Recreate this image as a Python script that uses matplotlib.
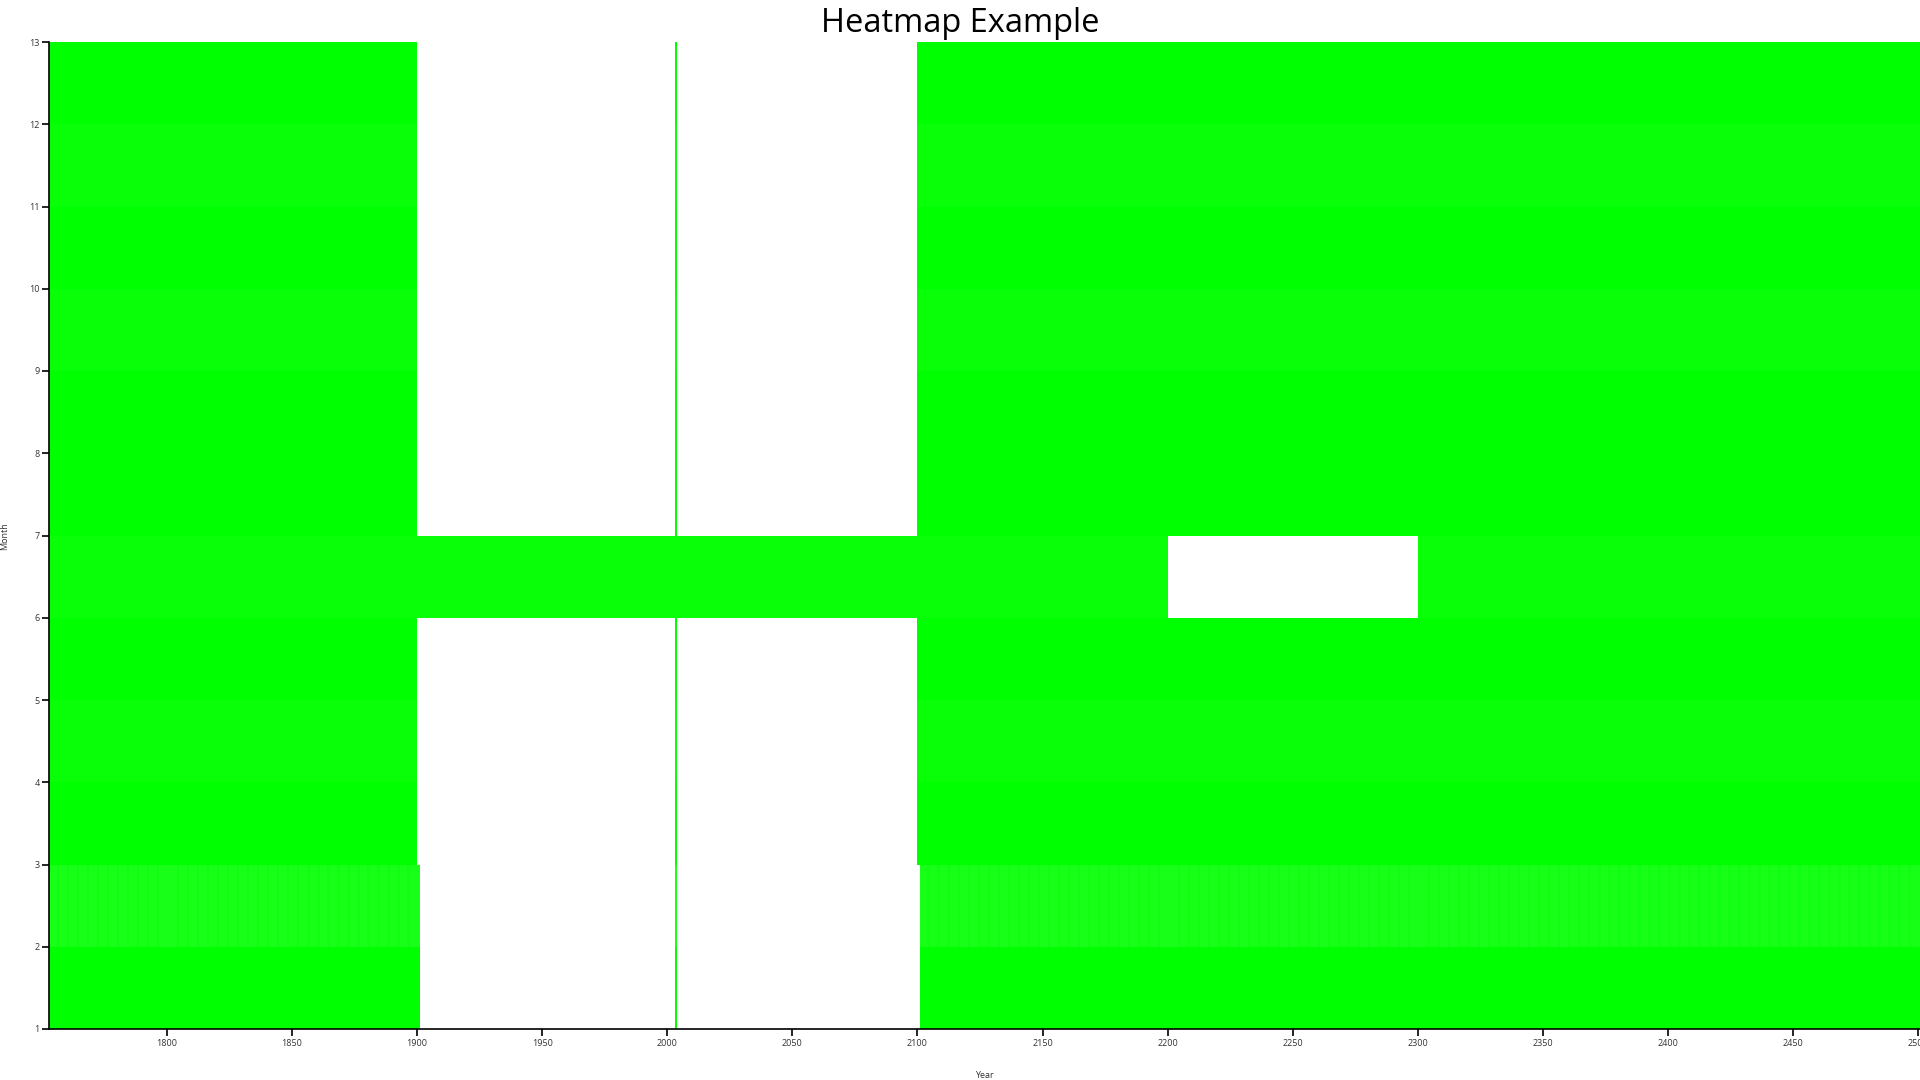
import calendar
import matplotlib
matplotlib.use('Agg')
import matplotlib.pyplot as plt
from matplotlib.colors import LinearSegmentedColormap
import numpy as np

# data: value of each cell = number of days in that month
first_year = 1753
last_year = 2500
month_days = [31, 28, 31, 30, 31, 30, 31, 31, 30, 31, 30, 31]
month_ticks = list(range(1, 14))
year_ticks = list(range(1800, 2501, 50))

# holes in the data
gap_from = (1900, 3)      # missing from March 1900 ...
gap_to = (2100, 2)        # ... up to February 2100
kept_year = 2003          # this year is complete inside the gap
kept_month = 6            # June is complete inside the gap
june_gap = (2200, 2299)   # June missing for these years

years = np.arange(first_year, last_year + 1)
values = np.full((12, len(years)), np.nan)
for j, y in enumerate(years):
    for m in range(1, 13):
        d = month_days[m - 1]
        if m == 2 and calendar.isleap(y):
            d = 29
        if gap_from <= (y, m) <= gap_to and y != kept_year and m != kept_month:
            continue
        if m == 6 and june_gap[0] <= y <= june_gap[1]:
            continue
        values[m - 1, j] = d

plt.rcParams['font.family'] = ['Open Sans', 'DejaVu Sans']

fig = plt.figure(figsize=(19.2, 10.8), dpi=100)
ax = fig.add_axes([49.3 / 1920, 1 - 1029 / 1080, 1 - 49.3 / 1920, (1029 - 42) / 1080])

cmap = LinearSegmentedColormap.from_list('wg', ['#ffffff', '#00ff00'])
x_edges = np.append(years, years[-1] + 1)
y_edges = np.arange(1, 14)
ax.pcolormesh(x_edges, y_edges, values, cmap=cmap, vmin=0, vmax=31, shading='flat')

ax.set_xlim(first_year, 2500.7)
ax.set_ylim(1, 13)
ax.set_xticks(year_ticks)
ax.set_yticks(month_ticks)
ax.tick_params(axis='both', labelsize=6.5, length=5, width=1.2, colors='black', labelcolor='#333333', pad=2)

for s in ['top', 'right']:
    ax.spines[s].set_visible(False)
for s in ['left', 'bottom']:
    ax.spines[s].set_linewidth(1.2)

fig.text(0.5, 1 - 23 / 1080, 'Heatmap Example', ha='center', va='center', fontsize=23.5, color='black')
fig.text(984 / 1920, 1 - 1075 / 1080, 'Year', ha='center', va='center', fontsize=6.5, color='#333333')
fig.text(5 / 1920, 1 - 536 / 1080, 'Month', ha='center', va='center', rotation=90, fontsize=6.5, color='#333333')

fig.savefig('out.png', dpi=100)
